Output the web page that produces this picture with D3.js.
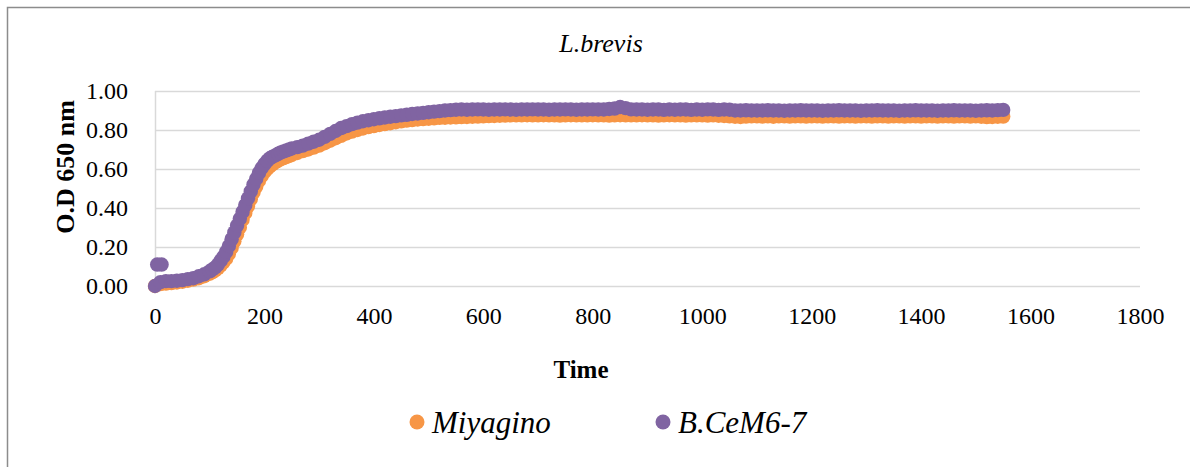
<!DOCTYPE html>
<html>
<head>
<meta charset="utf-8">
<script src="https://cdn.jsdelivr.net/npm/d3@7"></script>
<style>
html,body{margin:0;padding:0;background:#fff;}
svg{display:block;}
text{font-family:"Liberation Serif","Times New Roman",serif;fill:#000;}
</style>
</head>
<body>
<svg id="chart" width="1190" height="467"></svg>
<script>
const chartTitle = "L.brevis";
const yTitle = "O.D 650 nm";
const xTitle = "Time";
const seriesNames = ["Miyagino", "B.CeM6-7"];
const seriesColors = ["#F79646", "#8064A2"];
const xTicks = [0,200,400,600,800,1000,1200,1400,1600,1800];
const yTicks = [0,0.2,0.4,0.6,0.8,1.0];

const times = [
0,10,20,30,40,50,60,70,80,90,
100,105,110,115,120,125,130,135,140,145,
150,155,160,165,170,175,180,185,190,195,
200,205,210,215,220,225,230,235,240,245,
250,260,270,280,290,
300,310,320,330,340,350,360,370,380,390,
400,410,420,430,440,450,460,470,480,490,
500,510,520,530,540,550,560,570,580,590,
600,610,620,630,640,650,660,670,680,690,
700,710,720,730,740,750,760,770,780,790,
800,810,820,830,840,850,860,870,880,890,
900,910,920,930,940,950,960,970,980,990,
1000,1010,1020,1030,1040,1050,1060,1070,1080,1090,
1100,1110,1120,1130,1140,1150,1160,1170,1180,1190,
1200,1210,1220,1230,1240,1250,1260,1270,1280,1290,
1300,1310,1320,1330,1340,1350,1360,1370,1380,1390,
1400,1410,1420,1430,1440,1450,1460,1470,1480,1490,
1500,1510,1520,1530,1540,1550];

const miyagino = [
0.00,0.01,0.012,0.015,0.018,0.022,0.027,0.033,0.04,0.05,
0.063,0.071,0.08,0.092,0.105,0.122,0.14,0.165,0.195,0.23,
0.265,0.30,0.34,0.375,0.41,0.445,0.48,0.51,0.54,0.565,
0.585,0.60,0.615,0.625,0.635,0.643,0.65,0.656,0.662,0.667,
0.672,0.682,0.692,0.70,0.71,
0.72,0.732,0.745,0.758,0.77,0.782,0.792,0.80,0.808,0.815,
0.82,0.826,0.83,0.835,0.84,0.844,0.848,0.851,0.854,0.856,
0.858,0.86,0.862,0.863,0.864,0.865,0.866,0.867,0.868,0.869,
0.87,0.871,0.872,0.873,0.874,0.875,0.875,0.875,0.876,0.875,
0.875,0.876,0.875,0.875,0.874,0.875,0.876,0.875,0.875,0.875,
0.876,0.875,0.875,0.874,0.875,0.876,0.875,0.875,0.875,0.876,
0.875,0.875,0.874,0.875,0.876,0.875,0.875,0.874,0.875,0.875,
0.875,0.874,0.875,0.873,0.872,0.87,0.868,0.867,0.869,0.87,
0.87,0.869,0.87,0.868,0.87,0.87,0.869,0.87,0.87,0.869,
0.87,0.87,0.869,0.87,0.87,0.869,0.87,0.87,0.869,0.87,
0.87,0.869,0.87,0.87,0.869,0.87,0.87,0.869,0.87,0.87,
0.869,0.87,0.87,0.869,0.87,0.87,0.869,0.87,0.87,0.869,
0.87,0.868,0.866,0.867,0.868,0.869];

const bcem = [
0.00,0.02,0.025,0.025,0.027,0.03,0.035,0.04,0.05,0.06,
0.075,0.085,0.095,0.11,0.13,0.15,0.175,0.205,0.24,0.275,
0.31,0.345,0.38,0.415,0.45,0.485,0.52,0.55,0.58,0.605,
0.625,0.642,0.655,0.663,0.67,0.678,0.685,0.69,0.695,0.70,
0.705,0.712,0.72,0.73,0.74,
0.75,0.765,0.78,0.795,0.81,0.82,0.83,0.838,0.845,0.85,
0.855,0.86,0.864,0.868,0.871,0.875,0.878,0.882,0.885,0.888,
0.891,0.894,0.897,0.90,0.902,0.904,0.905,0.904,0.905,0.906,
0.905,0.904,0.905,0.905,0.906,0.905,0.904,0.905,0.905,0.906,
0.905,0.905,0.904,0.905,0.905,0.906,0.905,0.904,0.905,0.905,
0.906,0.905,0.905,0.908,0.91,0.918,0.912,0.906,0.905,0.905,
0.904,0.905,0.905,0.903,0.905,0.904,0.905,0.905,0.903,0.905,
0.904,0.906,0.905,0.903,0.905,0.904,0.90,0.90,0.901,0.90,
0.90,0.90,0.901,0.90,0.90,0.899,0.90,0.90,0.901,0.90,
0.90,0.90,0.899,0.90,0.90,0.901,0.90,0.90,0.90,0.899,
0.90,0.90,0.901,0.90,0.90,0.90,0.899,0.90,0.90,0.901,
0.90,0.90,0.90,0.899,0.90,0.90,0.901,0.90,0.90,0.90,
0.899,0.90,0.901,0.90,0.902,0.903];

const bcemOddTimes = [4, 12];
const bcemOddValues = [0.11, 0.11];

const svg = d3.select("#chart");
svg.append("rect").attr("x",0).attr("y",0).attr("width",1190).attr("height",467).attr("fill","#fff");

// outer chart border (top and left visible)
svg.append("path").attr("d","M7.5,467 L7.5,7.5 L1190,7.5")
  .attr("fill","none").attr("stroke","#8c8c8c").attr("stroke-width",1.5);

const x = d3.scaleLinear().domain([0,1800]).range([155,1140]);
const y = d3.scaleLinear().domain([0,1]).range([286,91]);

// gridlines
svg.append("g").selectAll("line").data(yTicks).join("line")
  .attr("x1",x(0)).attr("x2",x(1800))
  .attr("y1",d=>Math.round(y(d))+0.5).attr("y2",d=>Math.round(y(d))+0.5)
  .attr("stroke","#d9d9d9").attr("stroke-width",1.5);
svg.append("line").attr("x1",x(0)+0.5).attr("x2",x(0)+0.5).attr("y1",y(1)).attr("y2",y(0))
  .attr("stroke","#d9d9d9").attr("stroke-width",1.5);

// axes via d3 axis generators (labels only)
const yAxis = d3.axisLeft(y).tickValues(yTicks).tickFormat(d3.format(".2f")).tickSize(0).tickPadding(0);
const gy = svg.append("g").attr("transform","translate(128,0)").call(yAxis);
gy.select(".domain").remove();
gy.selectAll("text").attr("font-size",24).attr("font-family","Liberation Serif, Times New Roman, serif").attr("dy","0.33em");

const xAxis = d3.axisBottom(x).tickValues(xTicks).tickFormat(d3.format("d")).tickSize(0).tickPadding(0);
const gx = svg.append("g").attr("transform","translate(0,302)").call(xAxis);
gx.select(".domain").remove();
gx.selectAll("text").attr("font-size",24).attr("font-family","Liberation Serif, Times New Roman, serif").attr("dy","0.9em");

// series
const series = [
  {name: seriesNames[0], color: seriesColors[0], t: times, v: miyagino},
  {name: seriesNames[1], color: seriesColors[1], t: times.concat(bcemOddTimes), v: bcem.concat(bcemOddValues)}
];
series.forEach(s => {
  svg.append("g").selectAll("circle").data(s.v.map((v,i)=>[s.t[i],v])).join("circle")
    .attr("cx",d=>x(d[0])).attr("cy",d=>y(d[1])).attr("r",7.2).attr("fill",s.color);
});

// titles
svg.append("text").attr("x",601).attr("y",52).attr("text-anchor","middle")
  .attr("font-size",26).attr("font-style","italic").text(chartTitle);
svg.append("text").attr("transform","translate(74,167) rotate(-90)").attr("text-anchor","middle")
  .attr("font-size",26).attr("font-weight","bold").text(yTitle);
svg.append("text").attr("x",581).attr("y",378).attr("text-anchor","middle")
  .attr("font-size",25).attr("font-weight","bold").text(xTitle);

// legend
const legendX = [417, 663];
series.forEach((s,i) => {
  svg.append("circle").attr("cx",legendX[i]).attr("cy",422).attr("r",7.5).attr("fill",s.color);
  svg.append("text").attr("x",legendX[i]+15).attr("y",433).attr("font-size",31)
    .attr("font-style","italic").text(s.name);
});
</script>
</body>
</html>
